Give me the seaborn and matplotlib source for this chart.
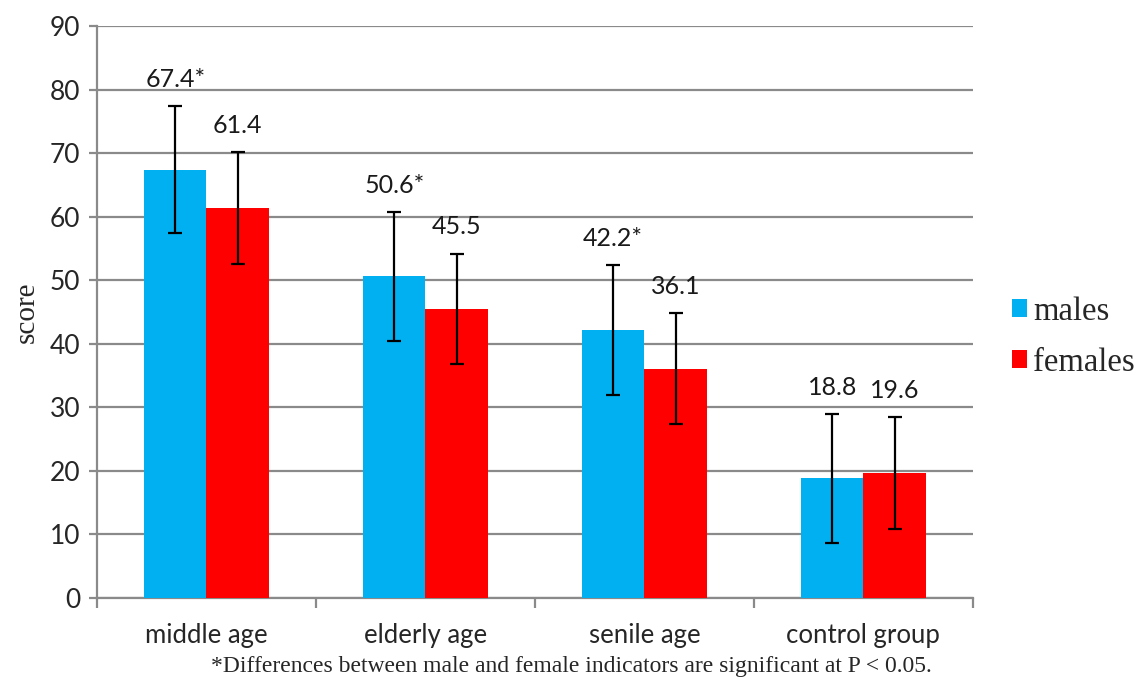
import pandas as pd
import numpy as np
import matplotlib.pyplot as plt
import seaborn as sns
from matplotlib.ticker import FixedLocator

groups = ['middle age', 'elderly age', 'senile age', 'control group']
males = [67.4, 50.6, 42.2, 18.8]
females = [61.4, 45.5, 36.1, 19.6]
males_err = [10.0, 10.1, 10.2, 10.1]
females_err = [8.8, 8.7, 8.7, 8.8]
males_lbl = ['67.4*', '50.6*', '42.2*', '18.8']
females_lbl = ['61.4', '45.5', '36.1', '19.6']

df = pd.DataFrame({
    'group': groups * 2,
    'score': males + females,
    'sex': ['males'] * 4 + ['females'] * 4,
    'err': males_err + females_err,
    'lbl': males_lbl + females_lbl,
})

sns.set_style('white')
plt.rcParams['font.family'] = ['Lato', 'DejaVu Sans']

fig = plt.figure(figsize=(11.42, 6.82), dpi=100)
ax = fig.add_axes([0.0849, 0.1232, 0.767, 0.8387])

sns.barplot(data=df, x='group', y='score', hue='sex', order=groups,
            hue_order=['males', 'females'],
            palette={'males': '#00B0F0', 'females': '#FF0000'},
            width=0.57, errorbar=None, saturation=1, linewidth=0,
            ax=ax, zorder=3)

# error bars + value labels, matched to the bars seaborn drew
for cont, sex in zip(ax.containers, ['males', 'females']):
    sub = df[df['sex'] == sex]
    for bar, (_, row) in zip(cont, sub.iterrows()):
        cx = bar.get_x() + bar.get_width() / 2
        ax.errorbar(cx, row['score'], yerr=row['err'], fmt='none',
                    ecolor='black', elinewidth=1.6, capsize=4.8,
                    capthick=1.6, zorder=4)
        ax.text(cx, row['score'] + row['err'] + 4.2, row['lbl'],
                ha='center', va='center', fontsize=18, color='#1a1a1a')

ax.set_ylim(0, 90)
ax.set_xlim(-0.5, 3.5)
ax.set_yticks(np.arange(0, 91, 10))
ax.yaxis.grid(True, color='#8a8a8a', linewidth=1.6, zorder=0)
ax.set_axisbelow(True)

for s in ['top', 'right']:
    ax.spines[s].set_visible(False)
for s in ['left', 'bottom']:
    ax.spines[s].set_color('#8a8a8a')
    ax.spines[s].set_linewidth(1.6)

ax.tick_params(axis='y', direction='out', length=6, width=1.6,
               color='#8a8a8a', labelsize=19, pad=6, left=True)
ax.tick_params(axis='x', which='major', length=0, labelsize=18.5, pad=18)
ax.xaxis.set_minor_locator(FixedLocator(np.arange(-0.5, 3.6, 1.0)))
ax.tick_params(axis='x', which='minor', direction='out', length=7,
               width=1.6, color='#8a8a8a', bottom=True)

ax.set_xlabel('')
ax.set_ylabel('score', family='Liberation Serif', fontsize=21, labelpad=4)
ax.yaxis.set_label_coords(-0.065, 0.5)

h, l = ax.get_legend_handles_labels()
ax.legend(h, l, loc='center left', bbox_to_anchor=(0.872, 0.506),
          bbox_transform=fig.transFigure, frameon=False, borderpad=0,
          prop={'family': 'Liberation Serif', 'size': 23.5},
          handlelength=0.45, handleheight=0.45, handletextpad=0.2,
          labelspacing=0.62)

fig.text(0.5, 0.022, '*Differences between male and female indicators are significant at P < 0.05.',
         ha='center', va='center', family='Liberation Serif', fontsize=17)

fig.savefig('out.png', dpi=100)
